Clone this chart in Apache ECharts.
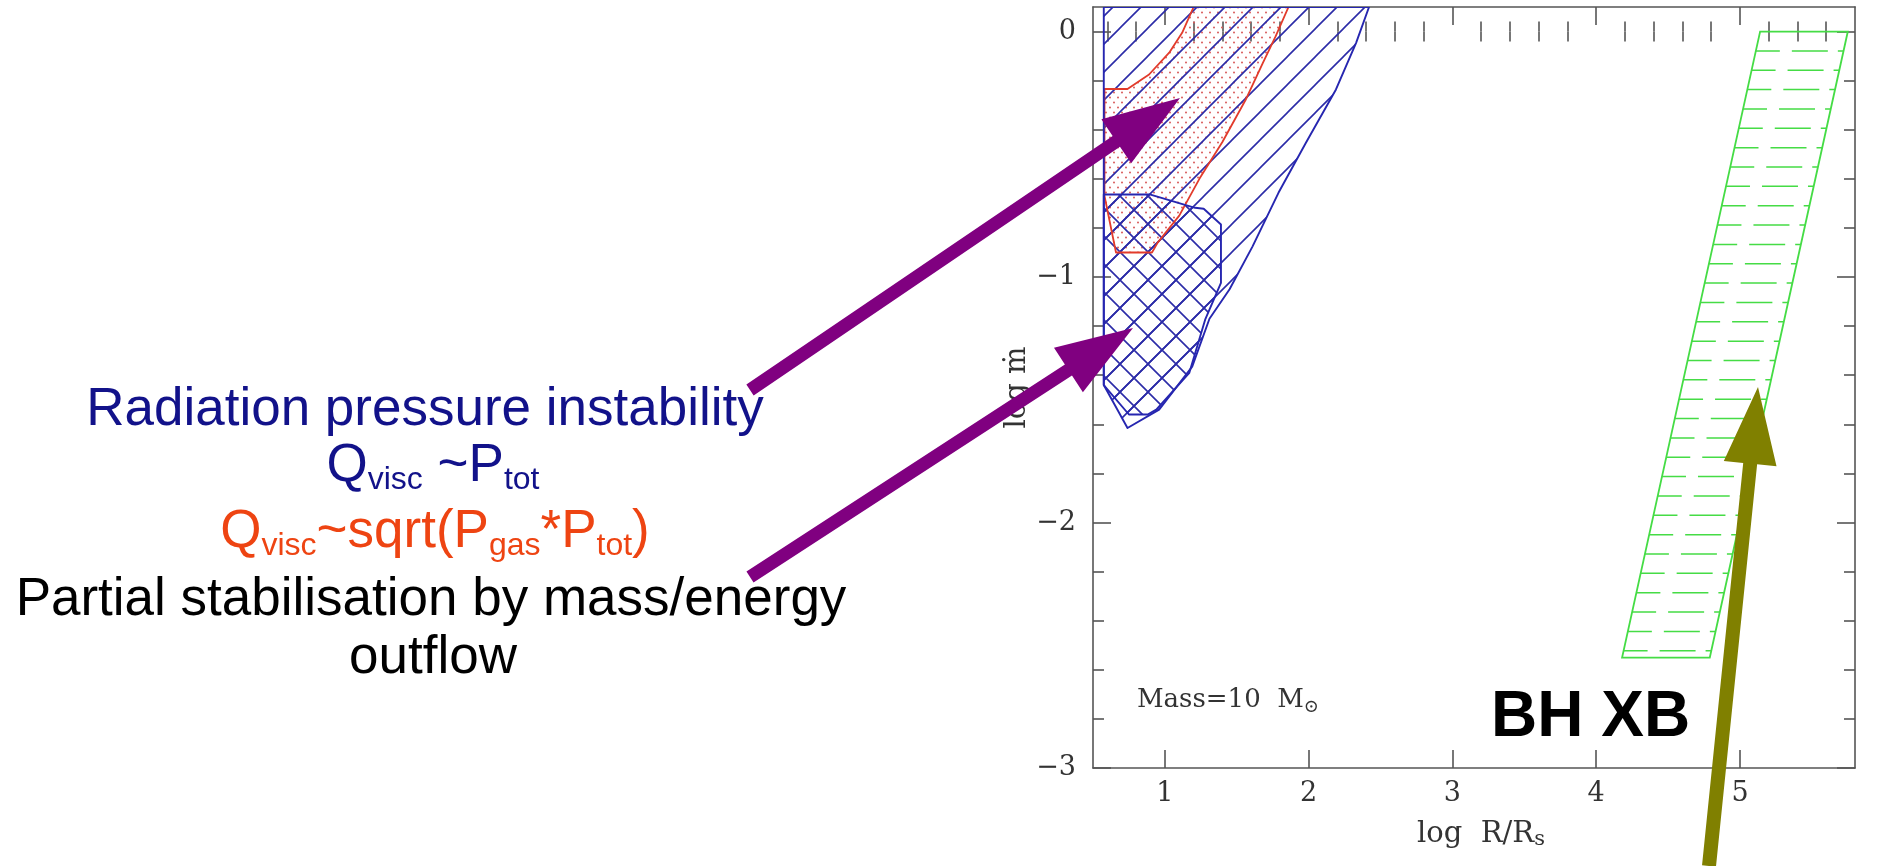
<!DOCTYPE html>
<html><head><meta charset="utf-8">
<script src="https://cdn.jsdelivr.net/npm/echarts@6/dist/echarts.min.js"></script>
<style>html,body{margin:0;padding:0;background:#fff}#c{width:1886px;height:866px}</style>
</head><body><div id="c"></div>
<script>
// ---------- data ----------
const X_MAJOR = [1, 2, 3, 4, 5];
const X_MINOR = [0.6, 0.8, 1.2, 1.4, 1.6, 1.8, 2.2, 2.4, 2.6, 2.8, 3.2, 3.4, 3.6, 3.8, 4.2, 4.4, 4.6, 4.8, 5.2, 5.4, 5.6];
const Y_MAJOR = [-3, -2, -1, 0];
const Y_MINOR = [-2.8, -2.6, -2.4, -2.2, -1.8, -1.6, -1.4, -1.2, -0.8, -0.6, -0.4, -0.2];

// unstable region, Q_visc ~ P_tot (blue, single hatch)
const radUnstable = [[0.575, 0.10], [2.42, 0.10], [2.33, -0.046], [2.19, -0.236], [1.98, -0.454], [1.79, -0.657], [1.61, -0.875], [1.45, -1.05], [1.31, -1.17], [1.19, -1.365], [0.96, -1.54], [0.74, -1.615], [0.575, -1.44]];
// unstable region, Q_visc ~ sqrt(Pgas*Ptot) (red, dotted)
const sqrtUnstable = [[1.20, 0.10], [1.12, -0.005], [1.03, -0.086], [0.89, -0.175], [0.74, -0.234], [0.58, -0.234], [0.58, -0.67], [0.66, -0.90], [0.91, -0.90], [0.95, -0.86], [1.10, -0.75], [1.24, -0.60], [1.40, -0.45], [1.56, -0.28], [1.68, -0.13], [1.77, -0.02], [1.86, 0.10]];
// stabilised by outflow (blue, cross hatch)
const outflowStable = [[0.575, -0.664], [0.90, -0.664], [1.21, -0.718], [1.27, -0.722], [1.39, -0.786], [1.39, -1.024], [1.28, -1.174], [1.17, -1.39], [0.94, -1.54], [0.88, -1.56], [0.75, -1.56], [0.575, -1.44]];
// BH X-ray binaries (green)
const bhxb = [[5.14, 0], [5.75, 0], [4.79, -2.55], [4.18, -2.55]];

// ---------- styles ----------
const BLUE = '#2626b0';
const RED = '#e23b2b';
const GREEN = '#45dc45';
const AXIS = '#555555';
const SERIF = '"DejaVu Serif", "Liberation Serif", serif';
const SANS = '"Liberation Sans", Arial, sans-serif';
const TXT = '#333333';

function hatchCanvas(size, dirs, color, lw) {
  const c = document.createElement('canvas'); c.width = size; c.height = size;
  const g = c.getContext('2d'); g.strokeStyle = color; g.lineWidth = lw;
  g.beginPath();
  for (const o of [-size, 0, size]) {
    if (dirs.indexOf('/') >= 0) { g.moveTo(o - 2, size + 2); g.lineTo(o + size + 2, -2); }
    if (dirs.indexOf('x') >= 0) { g.moveTo(o - 2, -2); g.lineTo(o + size + 2, size + 2); }
  }
  g.stroke();
  return c;
}
function dotCanvas() {
  const c = document.createElement('canvas'); c.width = 8; c.height = 10;
  const g = c.getContext('2d'); g.fillStyle = '#d85a5a';
  g.beginPath(); g.arc(2, 2.5, 1.0, 0, Math.PI * 2); g.fill();
  g.beginPath(); g.arc(6, 7.5, 1.0, 0, Math.PI * 2); g.fill();
  return c;
}
const singleHatch = { image: hatchCanvas(28, '/', '#2c2ca8', 1.6), repeat: 'repeat' };
const crossHatch = { image: hatchCanvas(28, '/x', '#2c2ca8', 1.6), repeat: 'repeat' };
const dots = { image: dotCanvas(), repeat: 'repeat' };

function polySeries(name, pts, fill, stroke, lw, z) {
  return {
    type: 'custom', name, coordinateSystem: 'cartesian2d', xAxisIndex: 0, yAxisIndex: 0,
    clip: true, z, silent: true, data: pts,
    renderItem: (params, api) => {
      if (params.dataIndex !== 0) return;
      return { type: 'polygon', shape: { points: pts.map(p => api.coord(p)) },
        style: { fill: fill, stroke: stroke, lineWidth: lw, lineJoin: 'round' } };
    }
  };
}

const ROW = 19.35;
const greenSeries = {
  type: 'custom', name: 'BH XB', coordinateSystem: 'cartesian2d', xAxisIndex: 0, yAxisIndex: 0,
  clip: true, z: 10, silent: true, data: bhxb,
  renderItem: (params, api) => {
    if (params.dataIndex !== 0) return;
    const p = bhxb.map(d => api.coord(d));
    const children = [{ type: 'polygon', shape: { points: p }, style: { fill: 'none', stroke: GREEN, lineWidth: 1.8 } }];
    const top = p[0][1], bot = p[3][1];
    for (let y = top + ROW; y < bot - 3; y += ROW) {
      const t = (y - top) / (bot - top);
      const xl = p[0][0] + (p[3][0] - p[0][0]) * t;
      const xr = p[1][0] + (p[2][0] - p[1][0]) * t;
      children.push({ type: 'line', shape: { x1: xl, y1: y, x2: xr, y2: y },
        style: { stroke: GREEN, lineWidth: 1.5, lineDash: [24, 12, 36, 10] } });
    }
    return { type: 'group', children };
  }
};

function xAx(pos, ticks, len, opts) {
  return Object.assign({
    type: 'value', min: 0.5, max: 5.8, position: pos, gridIndex: 0,
    axisLine: { show: true, onZero: false, lineStyle: { color: AXIS, width: 1.6 } },
    axisTick: { show: true, inside: true, length: len, customValues: ticks, lineStyle: { color: AXIS, width: 1.6 } },
    axisLabel: { show: false },
    splitLine: { show: false }
  }, opts || {});
}
function yAx(pos, ticks, len, opts) {
  return Object.assign({
    type: 'value', min: -3, max: 0.1, position: pos, gridIndex: 0,
    axisLine: { show: true, onZero: false, lineStyle: { color: AXIS, width: 1.6 } },
    axisTick: { show: true, inside: true, length: len, customValues: ticks, lineStyle: { color: AXIS, width: 1.6 } },
    axisLabel: { show: false },
    splitLine: { show: false }
  }, opts || {});
}

function arrow(T, P, w, L, H) {
  const dx = P[0] - T[0], dy = P[1] - T[1], d = Math.hypot(dx, dy);
  const ux = dx / d, uy = dy / d, nx = -uy, ny = ux;
  const B = [P[0] - L * ux, P[1] - L * uy];
  return [
    [T[0] + w * nx, T[1] + w * ny], [B[0] + w * nx, B[1] + w * ny], [B[0] + H * nx, B[1] + H * ny],
    P, [B[0] - H * nx, B[1] - H * ny], [B[0] - w * nx, B[1] - w * ny], [T[0] - w * nx, T[1] - w * ny]
  ];
}

const chart = echarts.init(document.getElementById('c'), null, { renderer: 'canvas' });
const option = {
  backgroundColor: '#ffffff',
  animation: false,
  grid: { left: 1093, top: 7, right: 31, bottom: 98, outerBoundsMode: 'none', containLabel: false },
  xAxis: [
    xAx('bottom', X_MAJOR, 18, {
      axisLabel: { show: true, customValues: X_MAJOR, margin: 12, fontFamily: SERIF, fontSize: 27, color: TXT },
      name: '{a|log  R/R}{s|s}', nameLocation: 'middle', nameGap: 50,
      nameTextStyle: { padding: [0, 0, 0, 14], rich: {
        a: { fontFamily: SERIF, fontSize: 29, color: TXT, lineHeight: 32 },
        s: { fontFamily: SERIF, fontSize: 21, color: TXT, lineHeight: 19, verticalAlign: 'bottom' } } }
    }),
    xAx('bottom', X_MINOR, 10, { axisLine: { show: false } }),
    xAx('top', X_MAJOR, 18),
    xAx('top', X_MINOR, 10, { axisLine: { show: false } })
  ],
  yAxis: [
    yAx('left', Y_MAJOR, 18, {
      axisLabel: { show: true, customValues: Y_MAJOR, margin: 17, fontFamily: SERIF, fontSize: 27, color: TXT,
        formatter: v => (v < 0 ? '\u2212' + Math.abs(v) : String(v)) },
      name: 'log \u1E41', nameLocation: 'middle', nameGap: 54, nameRotate: 90,
      nameTextStyle: { fontFamily: SERIF, fontSize: 29, color: TXT }
    }),
    yAx('left', Y_MINOR, 11, { axisLine: { show: false } }),
    yAx('right', Y_MAJOR, 18),
    yAx('right', Y_MINOR, 11, { axisLine: { show: false } })
  ],
  series: [
    polySeries('sqrt', sqrtUnstable, dots, 'none', 0, 2),
    polySeries('rad', radUnstable, singleHatch, 'none', 0, 3),
    polySeries('outflow', outflowStable, crossHatch, 'none', 0, 4),
    polySeries('sqrtEdge', sqrtUnstable, 'none', RED, 1.8, 5),
    polySeries('radEdge', radUnstable, 'none', BLUE, 1.9, 6),
    polySeries('outflowEdge', outflowStable, 'none', BLUE, 1.9, 7),
    greenSeries
  ],
  graphic: [
    { type: 'text', x: 425, y: 410, z: 50, style: { text: 'Radiation pressure instability', font: '53px ' + SANS, fill: '#12128a', align: 'center', verticalAlign: 'middle' } },
    { type: 'text', x: 433, y: 436, z: 50, style: { text: '{q|Q}{s|visc}{q| ~P}{s|tot}', align: 'center', verticalAlign: 'top',
        rich: { q: { fontFamily: SANS, fontSize: 53, lineHeight: 60, fill: '#12128a' }, s: { fontFamily: SANS, fontSize: 32, lineHeight: 24, verticalAlign: 'bottom', fill: '#12128a' } } } },
    { type: 'text', x: 435, y: 502, z: 50, style: { text: '{q|Q}{s|visc}{q|~sqrt(P}{s|gas}{q|*P}{s|tot}{q|)}', align: 'center', verticalAlign: 'top',
        rich: { q: { fontFamily: SANS, fontSize: 53, lineHeight: 60, fill: '#ee4412' }, s: { fontFamily: SANS, fontSize: 32, lineHeight: 24, verticalAlign: 'bottom', fill: '#ee4412' } } } },
    { type: 'text', x: 431, y: 600, z: 50, style: { text: 'Partial stabilisation by mass/energy', font: '53px ' + SANS, fill: '#000000', align: 'center', verticalAlign: 'middle' } },
    { type: 'text', x: 433, y: 658, z: 50, style: { text: 'outflow', font: '53px ' + SANS, fill: '#000000', align: 'center', verticalAlign: 'middle' } },
    { type: 'text', x: 1491, y: 718, z: 50, style: { text: 'BH XB', font: 'bold 64px ' + SANS, fill: '#000000', align: 'left', verticalAlign: 'middle' } },
    { type: 'text', x: 1137, y: 684, z: 50, style: { text: '{a|Mass=10  M}{b|\u2299}', align: 'left', verticalAlign: 'top',
        rich: { a: { fontFamily: SERIF, fontSize: 26, lineHeight: 32, fill: TXT }, b: { fontFamily: SERIF, fontSize: 18, lineHeight: 15, verticalAlign: 'bottom', fill: TXT } } } },
    { type: 'polygon', z: 60, shape: { points: arrow([750, 390], [1180, 98], 6.5, 77, 26.5) }, style: { fill: '#800080' } },
    { type: 'polygon', z: 60, shape: { points: arrow([750, 577], [1133, 328], 6.5, 77, 26.5) }, style: { fill: '#800080' } },
    { type: 'polygon', z: 60, shape: { points: arrow([1709, 866], [1758, 387], 7, 77, 26.5) }, style: { fill: '#808000' } }
  ]
};
chart.setOption(option);
</script></body></html>
